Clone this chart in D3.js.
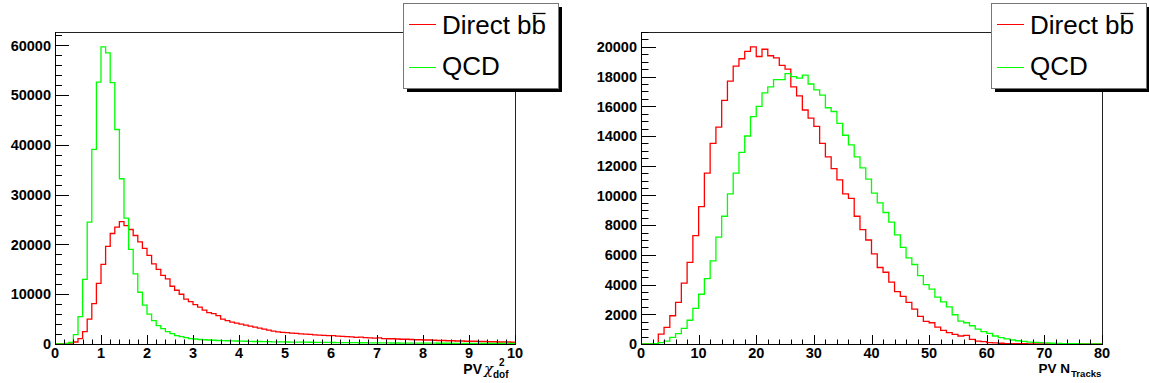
<!DOCTYPE html>
<html><head><meta charset="utf-8">
<script src="https://cdn.jsdelivr.net/npm/d3@7"></script>
<style>body{margin:0;background:#fff}svg{display:block}</style>
</head><body>
<svg id="c" width="1149" height="383"></svg>
<script>
// Primary-vertex chi2/dof histogram: 100 bins over [0, 10]
const chiRange = [0, 10];
const chiDirectBB = [
  0, 50, 100, 200, 400, 1100, 2500, 5000, 8100, 12200,
  16000, 19600, 22200, 23500, 24600, 23800, 23000, 21800, 20500, 19200,
  17800, 16100, 15000, 13800, 13100, 11600, 10800, 10000, 9000, 8500,
  7900, 7400, 6800, 6300, 6100, 5700, 5000, 4700, 4400, 4200,
  4000, 3800, 3600, 3400, 3200, 3000, 2800, 2600, 2450, 2350,
  2300, 2200, 2150, 2050, 2000, 1950, 1850, 1800, 1750, 1700,
  1700, 1600, 1550, 1500, 1450, 1350, 1400, 1300, 1250, 1200,
  1250, 1100, 1050, 1050, 1000, 950, 950, 900, 850, 850,
  800, 800, 750, 700, 700, 650, 650, 600, 600, 550,
  550, 550, 500, 500, 450, 450, 400, 400, 400, 350
];
const chiQCD = [
  0, 0, 50, 300, 1900, 5500, 13000, 24500, 39100, 52600,
  59700, 58500, 52500, 43100, 33200, 25300, 19000, 14100, 10400, 7800,
  6000, 4700, 3700, 3100, 2500, 2100, 1700, 1500, 1300, 1100,
  1000, 900, 850, 800, 750, 700, 680, 650, 620, 600,
  580, 550, 530, 500, 500, 480, 460, 440, 430, 420,
  400, 390, 380, 370, 360, 350, 340, 330, 320, 310,
  300, 290, 280, 270, 270, 260, 250, 250, 240, 230,
  220, 220, 210, 200, 200, 190, 190, 180, 180, 170,
  170, 160, 160, 150, 150, 150, 140, 140, 140, 130,
  130, 130, 120, 120, 120, 110, 110, 110, 100, 100
];

// Primary-vertex track multiplicity: 80 bins over [0, 80]
const ntrkRange = [0, 80];
const ntrkDirectBB = [
  0, 0, 0, 670, 1120, 1900, 2800, 4100, 5500, 7300,
  9250, 11500, 13500, 14600, 16400, 17700, 18700, 19200, 19700, 20000,
  19350, 19840, 19400, 19260, 18750, 18500, 17300, 16700, 15750, 15200,
  14650, 13500, 12600, 11800, 11050, 10100, 9800, 8600, 7700, 7000,
  6060, 5150, 4830, 4160, 3530, 3200, 2800, 2350, 1860, 1520,
  1430, 1140, 920, 760, 650, 540, 580, 310, 200, 160,
  90, 70, 50, 30, 30, 30, 20, 10, 10, 0,
  0, 0, 0, 0, 0, 0, 0, 0, 0, 0
];
const ntrkQCD = [
  0, 0, 30, 90, 200, 450, 700, 1050, 1600, 2400,
  3350, 4400, 5600, 7200, 8600, 10100, 11500, 12900, 14000, 15300,
  16000, 16900, 17300, 17800, 17800, 18200, 18000, 17900, 18100, 17500,
  17100, 16750, 15900, 15650, 14850, 14050, 13400, 12600, 11850, 11100,
  10150, 9500, 8850, 8200, 7350, 6500, 5800, 5350, 4600, 4000,
  3700, 3150, 2840, 2500, 1970, 1540, 1430, 1230, 1000, 830,
  720, 540, 430, 340, 270, 220, 180, 130, 110, 90,
  70, 50, 40, 30, 20, 20, 10, 10, 0, 0
];

const seriesNames = ["Direct b", "QCD"];
const seriesColors = ["#ff0000", "#00ff00"];

const svg = d3.select("#c");
const FONT = "'Liberation Sans', Arial, Helvetica, sans-serif";

function drawPanel(cfg) {
  const g = svg.append("g");
  const f = cfg.frame;
  const nb = cfg.series[0].length;
  const bw = (cfg.range[1] - cfg.range[0]) / nb;
  const ymax = d3.max(cfg.series, s => d3.max(s)) * 1.05;
  const x = d3.scaleLinear().domain(cfg.range).range([f.x0, f.x1]);
  const y = d3.scaleLinear().domain([0, ymax]).range([f.y1, f.y0]);

  // frame box
  g.append("rect").attr("x", f.x0 + 0.5).attr("y", f.y0 + 0.5)
    .attr("width", f.x1 - f.x0).attr("height", f.y1 - f.y0)
    .attr("fill", "#fff").attr("stroke", "#222").attr("stroke-width", 1);

  // histograms as step outlines
  const line = d3.line();
  cfg.series.forEach((s, k) => {
    const pts = [[x(cfg.range[0]), y(0)]];
    s.forEach((v, i) => {
      const lo = cfg.range[0] + i * bw, hi = lo + bw;
      pts.push([x(lo), y(v)], [x(hi), y(v)]);
    });
    pts.push([x(cfg.range[1]), y(0)]);
    g.append("path").attr("d", line(pts)).attr("fill", "none")
      .attr("stroke", seriesColors[k]).attr("stroke-width", 1.3)
      .attr("stroke-linejoin", "miter");
  });

  // y axis with inward ticks
  const yAx = g.append("g");
  const nMinY = Math.floor(ymax / cfg.yMinor + 1e-9);
  d3.range(0, nMinY + 1).forEach(i => {
    const v = i * cfg.yMinor;
    const major = Math.abs(v / cfg.yMajor - Math.round(v / cfg.yMajor)) < 1e-9;
    const py = Math.round(y(v)) + 0.5;
    yAx.append("line").attr("x1", f.x0).attr("x2", f.x0 + (major ? cfg.yTickLen : cfg.yTickLen / 2))
      .attr("y1", py).attr("y2", py).attr("stroke", "#000").attr("stroke-width", 1);
    if (major) {
      yAx.append("text").attr("x", f.x0 - 4).attr("y", y(v)).attr("dy", "0.36em")
        .attr("text-anchor", "end").attr("font-family", FONT).attr("font-weight", "bold")
        .attr("font-size", 14.5).attr("fill", "#000").text(v);
    }
  });
  yAx.append("line").attr("x1", f.x0 + 0.5).attr("x2", f.x0 + 0.5)
    .attr("y1", f.y0).attr("y2", f.y1 + 0.5).attr("stroke", "#000");

  // x axis with upward ticks
  const xAx = g.append("g");
  const nMinX = Math.round((cfg.range[1] - cfg.range[0]) / cfg.xMinor);
  d3.range(0, nMinX + 1).forEach(i => {
    const v = cfg.range[0] + i * cfg.xMinor;
    const major = Math.abs(v / cfg.xMajor - Math.round(v / cfg.xMajor)) < 1e-6;
    const px = Math.round(x(v)) + 0.5;
    xAx.append("line").attr("x1", px).attr("x2", px)
      .attr("y1", f.y1).attr("y2", f.y1 - (major ? 9 : 4.5))
      .attr("stroke", "#000").attr("stroke-width", 1);
    if (major) {
      xAx.append("text").attr("x", x(v)).attr("y", 357.5)
        .attr("text-anchor", "middle").attr("font-family", FONT).attr("font-weight", "bold")
        .attr("font-size", 14.5).attr("fill", "#000").text(Math.round(v));
    }
  });
  xAx.append("line").attr("x1", f.x0).attr("x2", f.x1 + 1)
    .attr("y1", f.y1 + 0.5).attr("y2", f.y1 + 0.5).attr("stroke", "#000");

  // axis title
  cfg.title(g, f);

  // legend
  const L = cfg.legend;
  g.append("rect").attr("x", L.x + 4).attr("y", L.y + 4).attr("width", L.w).attr("height", L.h).attr("fill", "#000");
  g.append("rect").attr("x", L.x + 0.5).attr("y", L.y + 0.5).attr("width", L.w).attr("height", L.h)
    .attr("fill", "#fff").attr("stroke", "#777").attr("stroke-width", 1);
  const rows = [{ ly: 24, ty: 34 }, { ly: 67, ty: 74.5 }];
  seriesNames.forEach((name, k) => {
    g.append("line").attr("x1", L.x + 6).attr("x2", L.x + 33)
      .attr("y1", rows[k].ly + 0.5).attr("y2", rows[k].ly + 0.5)
      .attr("stroke", seriesColors[k]).attr("stroke-width", 1);
    const t = g.append("text").attr("x", L.x + 39).attr("y", rows[k].ty)
      .attr("font-family", FONT).attr("font-size", 26).attr("fill", "#000").text(name);
    if (k === 0) {
      // anti-quark: "b" with an overline bar
      const bx = L.x + 39 + t.node().getComputedTextLength();
      const b = g.append("text").attr("x", bx).attr("y", rows[k].ty)
        .attr("font-family", FONT).attr("font-size", 26).attr("fill", "#000").text("b");
      const bl = b.node().getComputedTextLength();
      g.append("line").attr("x1", bx + 1).attr("x2", bx + bl - 0.5)
        .attr("y1", 13.5).attr("y2", 13.5).attr("stroke", "#000").attr("stroke-width", 1.3);
    }
  });
}

function textAt(g, x, y, txt, size, anchor, weight, family) {
  return g.append("text").attr("x", x).attr("y", y).attr("text-anchor", anchor || "start")
    .attr("font-family", family || FONT).attr("font-weight", weight || "bold")
    .attr("font-size", size).attr("fill", "#000").text(txt);
}

drawPanel({
  frame: { x0: 55, x1: 515, y0: 32, y1: 344 },
  range: chiRange,
  series: [chiDirectBB, chiQCD],
  yMajor: 10000, yMinor: 2000, yTickLen: 14,
  xMajor: 1, xMinor: 0.2,
  legend: { x: 403, y: 3, w: 155, h: 85 },
  title: (g, f) => {
    textAt(g, 482, 374, "PV", 14, "end");
    textAt(g, 484, 374, "\u03c7", 15, "start", "normal", "'DejaVu Serif', serif").attr("font-style", "italic");
    textAt(g, 493, 378, "dof", 10, "start");
    textAt(g, 499, 366, "2", 10, "start");
  }
});

drawPanel({
  frame: { x0: 641, x1: 1102, y0: 32, y1: 344 },
  range: ntrkRange,
  series: [ntrkDirectBB, ntrkQCD],
  yMajor: 2000, yMinor: 500, yTickLen: 15,
  xMajor: 10, xMinor: 2,
  legend: { x: 991, y: 3, w: 155, h: 85 },
  title: (g, f) => {
    textAt(g, 1070, 372.5, "PV N", 13.5, "end");
    textAt(g, 1071, 376.5, "Tracks", 9.6, "start");
  }
});
</script>
</body></html>
